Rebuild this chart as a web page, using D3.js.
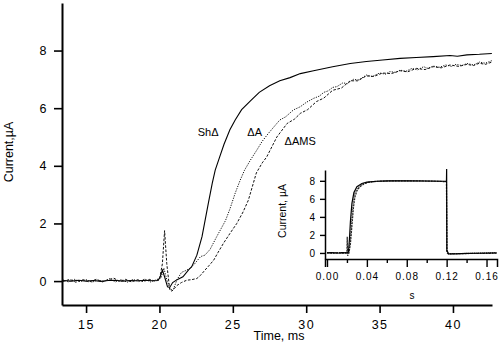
<!DOCTYPE html>
<html lang="en">
<head>
<meta charset="UTF-8">
<title>Current traces</title>
<script src="https://d3js.org/d3.v7.min.js"></script>
<style>
  body { margin: 0; background: #fff; }
  svg { display: block; font-family: "Liberation Sans", Arial, sans-serif; }
  .axis path, .axis line { stroke: #000; }
  .axis text { fill: #000; }
</style>
</head>
<body>
<svg width="500" height="352"></svg>
<script>
// ---- main panel data: [time ms, current uA] ----
const shDelta = [[13.4,0.02],[14,0],[14.5,0.03],[15,0],[15.5,0.02],[16,-0.01],[16.5,0.02],[17,0.03],
  [17.5,0],[18,0.02],[18.5,0.01],[19,0.03],[19.5,0.01],[19.9,0.02],[20.05,0.15],[20.2,0.38],[20.35,0.15],
  [20.55,-0.2],[20.7,-0.22],[20.9,-0.05],[21.2,0.05],[21.6,0.15],[22.0,0.4],[22.2,0.5],[22.55,0.9],
  [22.9,1.54],[23.33,2.7],[23.6,3.4],[23.8,3.85],[24.1,4.3],[24.4,4.75],[24.8,5.25],[25.16,5.59],
  [25.6,5.95],[26.2,6.25],[26.8,6.55],[27.5,6.78],[28.2,6.95],[28.9,7.06],[29.6,7.2],[30.5,7.3],
  [31.8,7.44],[33,7.55],[34.1,7.62],[35.2,7.67],[36.4,7.73],[37.5,7.76],[38.65,7.79],[39.8,7.83],
  [40.3,7.8],[40.95,7.85],[41.8,7.87],[42.65,7.9]];

const deltaA = [[13.4,0.05],[13.8,-0.03],[14.2,0.06],[14.6,-0.02],[15,0.05],[15.4,-0.04],[15.8,0.04],
  [16.2,-0.02],[16.6,0.08],[17,-0.03],[17.4,0.05],[17.8,-0.04],[18.2,0.06],[18.6,-0.02],[19,0.07],
  [19.4,-0.03],[19.8,0.05],[20.1,0.1],[20.3,0.45],[20.5,0.05],[20.75,-0.3],[20.95,-0.28],[21.2,0.05],
  [21.5,0.3],[21.86,0.38],[22.1,0.45],[22.4,0.6],[22.8,0.85],[23.1,0.9],[23.45,1.1],[23.9,1.54],
  [24.5,2.1],[24.8,2.5],[25.16,3.05],[25.5,3.5],[25.8,3.85],[26.2,4.2],[26.64,4.55],[27.0,4.85],
  [27.43,5.13],[28.2,5.59],[28.6,5.7],[29.13,5.94],[29.6,6.05],[30.0,6.2],[30.5,6.34],[30.9,6.42],
  [31.2,6.55],[31.5,6.6],[31.8,6.72],[32.1,6.75],[32.5,6.88],[32.8,6.85],[33.2,7.0],[33.6,6.98],
  [34.1,7.15],[34.5,7.1],[35,7.22],[35.4,7.18],[35.7,7.27],[36.1,7.24],[36.4,7.32],[36.8,7.28],
  [37.2,7.38],[37.6,7.33],[38,7.44],[38.3,7.38],[38.65,7.46],[39.1,7.42],[39.5,7.5],[39.9,7.45],
  [40.2,7.52],[40.6,7.48],[40.95,7.55],[41.4,7.5],[41.8,7.6],[42.2,7.56],[42.65,7.65]];

const deltaAMS = [[13.4,-0.02],[13.9,0.06],[14.3,-0.04],[14.8,0.05],[15.2,-0.03],[15.7,0.06],[16.1,-0.03],
  [16.5,0.05],[16.9,0.1],[17.3,-0.02],[17.7,0.06],[18.1,-0.03],[18.5,0.05],[18.9,-0.02],[19.3,0.06],
  [19.7,0.0],[20.0,0.05],[20.2,0.6],[20.35,1.75],[20.5,0.6],[20.7,-0.3],[20.85,-0.35],[21.2,-0.15],
  [21.5,-0.05],[21.86,0.03],[22.2,0.05],[22.55,0.09],[22.8,0.2],[23.1,0.38],[23.4,0.55],[23.7,0.73],
  [24.0,1.0],[24.36,1.31],[24.8,1.65],[25.27,2.0],[25.7,2.4],[26.06,2.81],[26.4,3.4],[26.6,3.75],
  [27.0,4.1],[27.3,4.3],[27.7,4.7],[28.0,5.0],[28.7,5.47],[29.2,5.62],[29.6,5.82],[30.1,5.95],
  [30.7,6.23],[31.2,6.35],[31.8,6.62],[32.4,6.7],[33,6.95],[33.5,6.95],[34.1,7.12],[34.6,7.1],
  [35.2,7.22],[35.8,7.2],[36.4,7.3],[36.9,7.26],[37.5,7.38],[38.1,7.34],[38.65,7.44],[39.2,7.4],
  [39.8,7.5],[40.4,7.45],[40.95,7.52],[41.4,7.48],[41.8,7.56],[42.2,7.52],[42.65,7.6]];

const mainXTicks = [15, 20, 25, 30, 35, 40];
const mainYTicks = [0, 2, 4, 6, 8];

// curve labels: [text, time, current]
const curveLabels = [["Sh\u0394", 23.32, 5.18], ["\u0394A", 26.49, 5.18], ["\u0394AMS", 29.59, 4.84]];

// ---- inset data: [time s, current uA] ----
const insetSolid = [[0,0],[0.005,0.03],[0.01,-0.03],[0.015,0.03],[0.02,0],[0.0215,0.1],[0.0225,1.5],
  [0.0235,3.5],[0.025,5.5],[0.027,6.7],[0.03,7.35],[0.035,7.7],[0.04,7.85],[0.05,7.95],[0.06,8.0],
  [0.08,8.0],[0.1,7.98],[0.119,7.95],[0.1198,7.9],[0.12,9.3],[0.1202,0.3],[0.122,-0.1],[0.13,-0.1],
  [0.14,-0.05],[0.15,-0.03],[0.17,0]];
const insetA = [[0,0.02],[0.01,0.03],[0.02,0.02],[0.022,0.1],[0.0235,1.5],[0.025,4],[0.0265,5.8],
  [0.028,6.7],[0.031,7.25],[0.035,7.6],[0.04,7.8],[0.05,7.93],[0.07,8.0],[0.1,7.97],[0.1198,7.92],
  [0.1203,0.1],[0.122,-0.08],[0.14,-0.05],[0.17,0.02]];
const insetAMS = [[0,0.03],[0.005,-0.02],[0.01,0.03],[0.015,-0.02],[0.02,0.02],[0.0203,1.8],[0.0207,-0.3],
  [0.022,0],[0.0235,1],[0.025,3],[0.0265,5],[0.028,6.2],[0.03,6.9],[0.033,7.35],[0.037,7.65],
  [0.042,7.85],[0.05,7.95],[0.07,8.0],[0.09,8.0],[0.11,7.95],[0.1198,7.9],[0.1203,0],[0.122,-0.12],
  [0.13,-0.08],[0.15,-0.05],[0.17,-0.03]];

const insetXTicks = [0, 0.02, 0.04, 0.06, 0.08, 0.10, 0.12, 0.14, 0.16];
const insetXLabels = ["0.00", "0.04", "0.08", "0.12", "0.16"];
const insetYTicks = [0, 2, 4, 6, 8];

const svg = d3.select("svg");

// ------------------------------------ main panel
const x = d3.scaleLinear().domain([13.36, 42.66]).range([62, 492]);
const y = d3.scaleLinear().domain([-0.83, 9.65]).range([305, 3]);

const xAxis = svg.append("g").attr("class", "axis").attr("transform", "translate(0,305)")
  .call(d3.axisBottom(x).tickValues(mainXTicks).tickSize(8).tickSizeOuter(0).tickPadding(7));
const yAxis = svg.append("g").attr("class", "axis").attr("transform", "translate(62,0)")
  .call(d3.axisLeft(y).tickValues(mainYTicks).tickSize(8).tickSizeOuter(0).tickPadding(6));
[xAxis, yAxis].forEach(a => {
  a.select(".domain").attr("stroke-width", 2);
  a.selectAll(".tick line").attr("stroke-width", 1.6);
  a.selectAll("text").attr("font-size", 12.5).style("letter-spacing", "1.5px");
});

const line = d3.line().x(d => x(d[0])).y(d => y(d[1]));

svg.append("path").datum(shDelta).attr("d", line)
  .attr("fill", "none").attr("stroke", "#000").attr("stroke-width", 1.1);
svg.append("path").datum(deltaA).attr("d", line)
  .attr("fill", "none").attr("stroke", "#111").attr("stroke-width", 1)
  .attr("stroke-dasharray", "1.2,1.3");
svg.append("path").datum(deltaAMS).attr("d", line)
  .attr("fill", "none").attr("stroke", "#111").attr("stroke-width", 1)
  .attr("stroke-dasharray", "2.6,1.6");

svg.selectAll(".lbl").data(curveLabels).enter().append("text")
  .attr("class", "lbl")
  .attr("x", d => x(d[1])).attr("y", d => y(d[2]))
  .attr("text-anchor", "middle").attr("font-size", 11).attr("dy", "0.35em")
  .text(d => d[0]);

svg.append("text").attr("x", 279).attr("y", 340).attr("text-anchor", "middle")
  .attr("font-size", 12.5).text("Time, ms");
svg.append("text").attr("transform", "translate(13,152) rotate(-90)")
  .attr("text-anchor", "middle").attr("font-size", 12.5).text("Current,\u00b5A");

// ------------------------------------ inset
const ix = d3.scaleLinear().domain([-0.002, 0.1705]).range([325, 497]);
const iy = d3.scaleLinear().domain([-0.67, 9.2]).range([259, 170]);

const ixAxis = svg.append("g").attr("class", "axis").attr("transform", "translate(0,259)")
  .call(d3.axisBottom(ix).tickValues(insetXTicks).tickSizeOuter(0).tickPadding(6)
    .tickSize(8).tickFormat(d => insetXLabels.includes(d3.format(".2f")(d)) ? d3.format(".2f")(d) : ""));
ixAxis.selectAll(".tick").filter(d => !insetXLabels.includes(d3.format(".2f")(d)))
  .select("line").attr("y2", 4);
const iyAxis = svg.append("g").attr("class", "axis").attr("transform", "translate(325,0)")
  .call(d3.axisLeft(iy).tickValues(insetYTicks).tickSize(5).tickSizeOuter(0).tickPadding(4));
[ixAxis, iyAxis].forEach(a => {
  a.select(".domain").attr("stroke-width", 1.5);
  a.selectAll(".tick line").attr("stroke-width", 1.4);
  a.selectAll("text").attr("font-size", 10).style("letter-spacing", "1px");
});

const iline = d3.line().x(d => ix(d[0])).y(d => iy(d[1]));
svg.append("path").datum(insetAMS).attr("d", iline)
  .attr("fill", "none").attr("stroke", "#222").attr("stroke-width", 1.2).attr("stroke-dasharray", "2,1");
svg.append("path").datum(insetA).attr("d", iline)
  .attr("fill", "none").attr("stroke", "#222").attr("stroke-width", 1).attr("stroke-dasharray", "1,1");
svg.append("path").datum(insetSolid).attr("d", iline)
  .attr("fill", "none").attr("stroke", "#000").attr("stroke-width", 1.2);

svg.append("text").attr("x", 412).attr("y", 299).attr("text-anchor", "middle")
  .attr("font-size", 10).text("s");
svg.append("text").attr("transform", "translate(286,211) rotate(-90)")
  .attr("text-anchor", "middle").attr("font-size", 10.5).text("Current, \u00b5A");
</script>
</body>
</html>
